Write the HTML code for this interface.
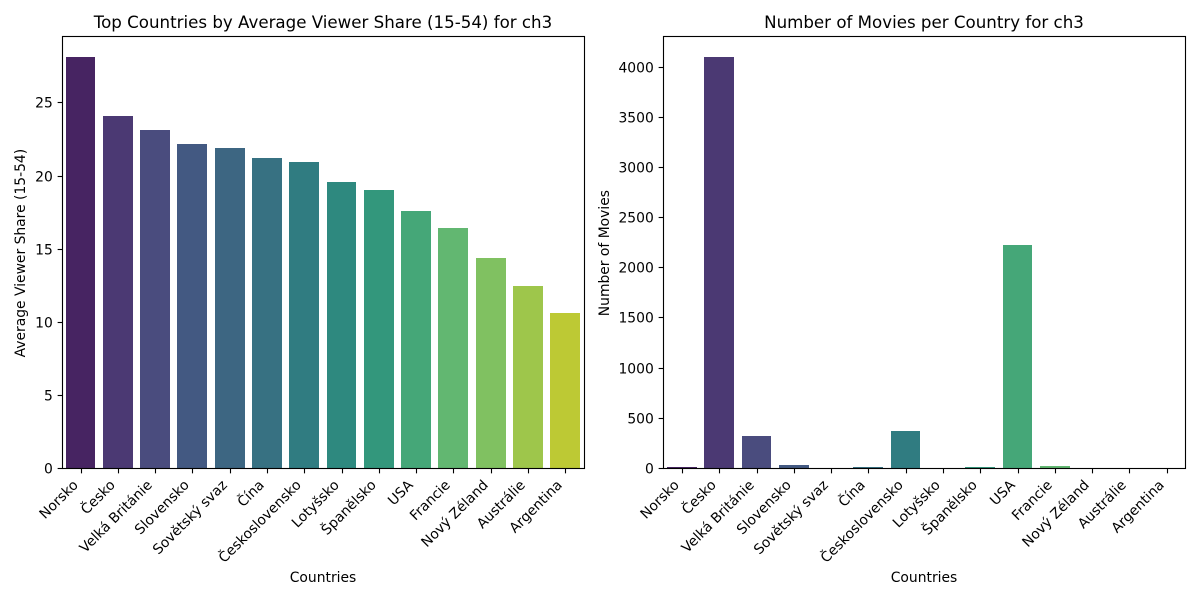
<!DOCTYPE html>
<html lang="cs">
<head>
<meta charset="utf-8">
<title>Top Countries for ch3</title>
<style>
html,body{margin:0;padding:0;background:#fff;width:1200px;height:600px;overflow:hidden}
svg{display:block}
text{font-family:"DejaVu Sans","Liberation Sans",sans-serif;fill:#000;font-size:13.89px}
.title{font-size:16.67px}
</style>
</head>
<body>
<svg id="fig" width="1200" height="600" viewBox="0 0 1200 600" xmlns="http://www.w3.org/2000/svg"></svg>
<script>
const categories = ["Norsko","Česko","Velká Británie","Slovensko","Sovětský svaz","Čína","Československo","Lotyšsko","Španělsko","USA","Francie","Nový Zéland","Austrálie","Argentina"];
const viewerShare = [28.14,24.1,23.15,22.2,21.9,21.22,20.95,19.6,19.05,17.6,16.45,14.4,12.5,10.65];
const movieCounts = [15,4100,325,35,2,12,370,2,10,2225,25,2,2,1];
const shareTicks = [0,5,10,15,20,25];
const movieTicks = [0,500,1000,1500,2000,2500,3000,3500,4000];
const palette = ["#481a6c","#472f7d","#414487","#39568c","#31688e","#2a788e","#23888e","#1f988b","#22a884","#35b779","#54c568","#7ad151","#a5db36","#d2e21b"];

const NS = "http://www.w3.org/2000/svg";
const fig = document.getElementById("fig");
const TOP = 36.5, BOTTOM = 468.5, PLOT_W = 522;

function el(tag, attrs, parent, txt){
  const e = document.createElementNS(NS, tag);
  for (const k in attrs) e.setAttribute(k, attrs[k]);
  if (txt !== undefined) e.textContent = txt;
  parent.appendChild(e);
  return e;
}
function desaturate(hex){
  const c = [1,3,5].map(i => parseInt(hex.substr(i,2),16));
  const l = (Math.max(...c) + Math.min(...c)) / 2;
  return "rgb(" + c.map(v => Math.round(l + 0.75 * (v - l))).join(",") + ")";
}
const snap = v => Math.floor(v) + 0.5;

function drawPanel(cfg){
  const g = el("g", {}, fig);
  
  
  const step = PLOT_W / categories.length;
  const barCenter = i => cfg.barLeft + (i + 0.5) * step;
  const tickX = i => snap(cfg.tickLeft + (i + 0.5) * step);
  const yMax = Math.max(...cfg.values) * 1.05;
  const yOf = v => BOTTOM - v / yMax * (BOTTOM - TOP);

  cfg.values.forEach((v, i) => {
    const x0 = Math.round(barCenter(i) - 0.4 * step), x1 = Math.round(barCenter(i) + 0.4 * step);
    const y0 = Math.round(yOf(v));
    const b = el("rect", {x:x0, y:y0, width:x1 - x0, height:Math.max(Math.floor(BOTTOM) - y0, 0), fill:desaturate(palette[i]), "shape-rendering":"crispEdges"}, g);
    
    
  });

  const frame = el("rect", {x:cfg.left, y:TOP, width:PLOT_W, height:BOTTOM - TOP, fill:"none", stroke:"#000", "stroke-width":1.11}, g);
  
  

  cfg.ticks.forEach(t => {
    const y = snap(yOf(t));
    const m = el("line", {x1:cfg.left - 4.86, x2:cfg.left, y1:y, y2:y, stroke:"#000", "stroke-width":1.11}, g);
    
    
    const l = el("text", {x:cfg.left - 9.7, y:y + 4.9, "text-anchor":"end"}, g, String(t));
    
    
  });

  categories.forEach((c, i) => {
    const x = tickX(i);
    const m = el("line", {x1:x, x2:x, y1:BOTTOM, y2:BOTTOM + 4.86, stroke:"#000", "stroke-width":1.11}, g);
    
    
    const ax = x - 2.6, ay = BOTTOM + 17.3;
    const l = el("text", {x:ax, y:ay, "text-anchor":"end", transform:"rotate(-45 " + ax + " " + ay + ")"}, g, c);
    
    
  });

  const cx = cfg.left + PLOT_W / 2;
  const title = el("text", {x:cx - 0.5, y:28, "text-anchor":"middle", class:"title"}, g, cfg.title);
  
  
  const xl = el("text", {x:cx - 0.5, y:582, "text-anchor":"middle"}, g, "Countries");
  
  
  const my = (TOP + BOTTOM) / 2 + 0.6;
  const yl = el("text", {x:cfg.yLabelX, y:my, "text-anchor":"middle", transform:"rotate(-90 " + cfg.yLabelX + " " + my + ")"}, g, cfg.yLabel);
  
  
}

drawPanel({name:"viewer-share-panel", left:62.5, barLeft:61.82, tickLeft:62.4, values:viewerShare, ticks:shareTicks,
  title:"Top Countries by Average Viewer Share (15-54) for ch3", yLabel:"Average Viewer Share (15-54)", yLabelX:25});
drawPanel({name:"movie-count-panel", left:663.5, barLeft:663.2, tickLeft:663.8, values:movieCounts, ticks:movieTicks,
  title:"Number of Movies per Country for ch3", yLabel:"Number of Movies", yLabelX:609});
</script>
</body>
</html>
